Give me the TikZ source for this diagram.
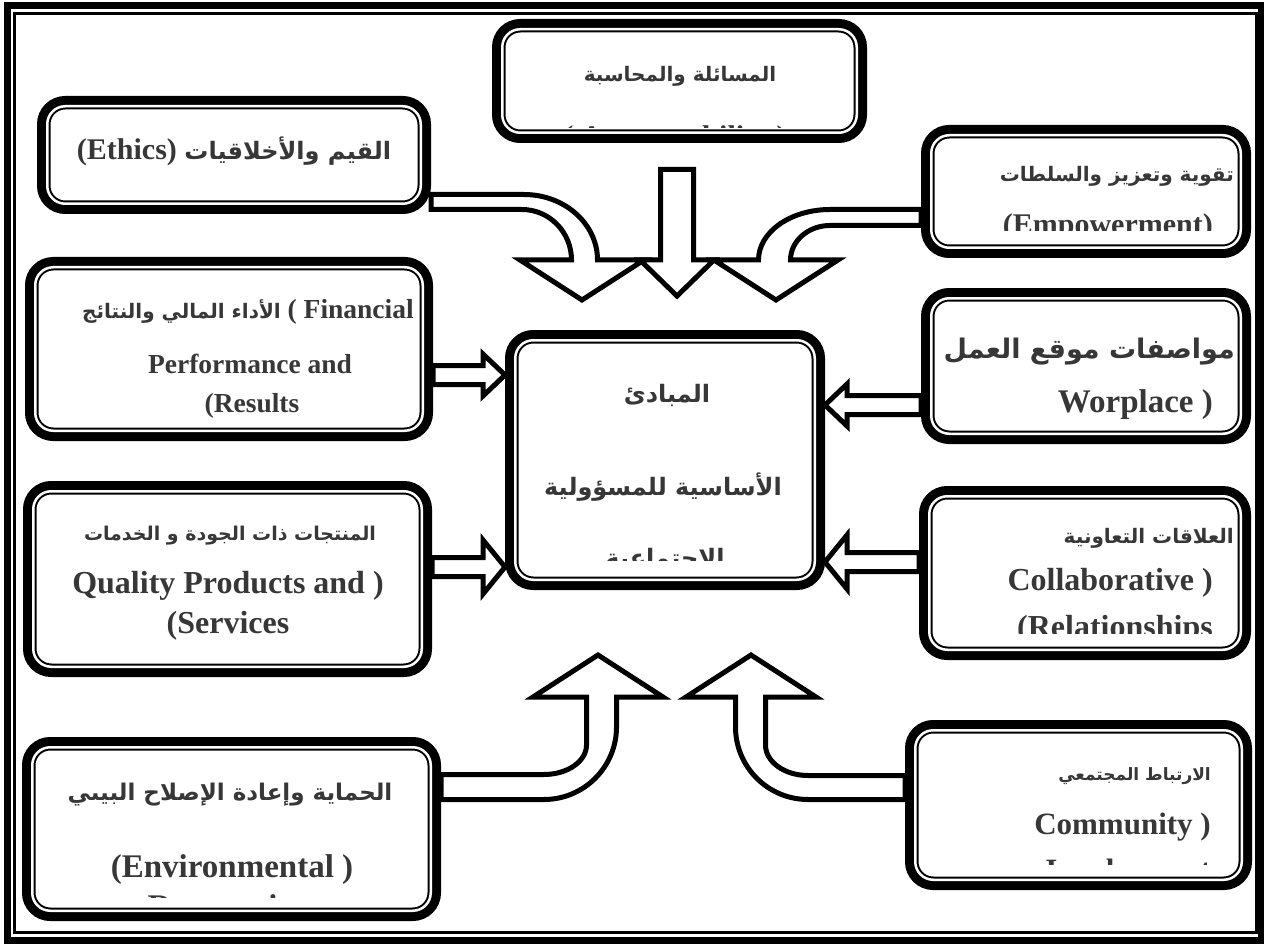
\documentclass[tikz,border=0pt]{standalone}
\usepackage{fontspec}
\setmainfont{Liberation Serif}
\newfontfamily\arabicfont[Script=Arabic]{DejaVu Sans}
\TeXXeTstate=1
\usetikzlibrary{calc}
\definecolor{txtgray}{RGB}{55,55,55}

\begin{document}
\begin{tikzpicture}[x=1pt, y=-1pt,
  pbox/.style={rectangle, rounded corners=18pt, fill=white, draw=black,
               line width=6.5pt, inner sep=0pt, outer sep=10.25pt,
               preaction={draw=black, line width=20.5pt},
               postaction={draw=white, line width=2.5pt}},
  en/.style={font=\fontsize{#1}{#1}\selectfont\bfseries, text=txtgray,
             inner sep=0pt, anchor=base},
  ar/.style={font=\fontsize{#1}{#1}\selectfont\arabicfont\bfseries, text=txtgray,
             inner sep=0pt, anchor=base},
  blk/.style={draw=black, fill=white, line width=5pt, line join=miter},
  hblk/.style={to path={let \p1=(\tikztostart), \p2=(\tikztotarget),
      \n1={(\x2>\x1) ? 22 : -22} in
      (\x1,\y1+9.5) -- (\x2-\n1,\y1+9.5) -- (\x2-\n1,\y1+#1) -- (\x2,\y1)
      -- (\x2-\n1,\y1-#1) -- (\x2-\n1,\y1-9.5) -- (\x1,\y1-9.5) -- cycle}}
]
\useasboundingbox (0,0) rectangle (1264,944);

% double frame
\draw[line width=7pt] (7,5.5) rectangle (1261,940.5);
\draw[line width=2.5pt] (14.5,13.5) rectangle (1256.5,932.5);

% boxes
\node[pbox, minimum width=354.5, minimum height=103.5] (acc) at (679.5,81) {};
\node[pbox, minimum width=373.5, minimum height=97.5]  (eth) at (234,155) {};
\node[pbox, minimum width=309.5, minimum height=112.5] (emp) at (1086,191.5) {};
\node[pbox, minimum width=387.5, minimum height=163.5] (fin) at (229,349) {};
\node[pbox, minimum width=299.5, minimum height=239.5] (ctr) at (665,460) {};
\node[pbox, minimum width=309.5, minimum height=135.5] (wor) at (1086,366) {};
\node[pbox, minimum width=388.5, minimum height=175.5] (qua) at (227.5,579) {};
\node[pbox, minimum width=311.5, minimum height=153.5] (col) at (1085,573) {};
\node[pbox, minimum width=398.5, minimum height=163.5] (env) at (231.5,829) {};
\node[pbox, minimum width=326.5, minimum height=149.5] (com) at (1078.5,805) {};

% texts
\begin{scope}
  \clip (acc.north west) rectangle ([yshift=15pt]acc.south east);
  \node[ar=20] (acc-a) at (680,82) {\beginR المسائلة والمحاسبة\endR};
  \node[en=30] (acc-b) at (675,147) {( Accountability )};
\end{scope}
\node[en=30] (eth-a) at (234,160)
  {(Ethics) {\fontsize{24}{24}\selectfont\arabicfont\beginR القيم والأخلاقيات\endR}};
\begin{scope}
  \clip (emp.north west) rectangle ([yshift=27pt]emp.south east);
  \node[ar=20, anchor=base east] (emp-a) at (1234,182) {\beginR تقوية وتعزيز والسلطات\endR};
  \node[en=30, anchor=base east] (emp-b) at (1213,235) {(Empowerment)};
\end{scope}
\node[en=27.5] (fin-a) at (248,318)
  {{\fontsize{20}{20}\selectfont\arabicfont\beginR الأداء المالي والنتائج\endR} ( Financial};
\node[en=27.5] (fin-b) at (250,373) {Performance and};
\node[en=27.5] (fin-c) at (252,412) {(Results};
\begin{scope}
  \clip (ctr.north west) rectangle ([yshift=30pt]ctr.south east);
  \node[ar=24] (ctr-a) at (667,402) {\beginR المبادئ\endR};
  \node[ar=24] (ctr-b) at (663,495) {\beginR الأساسية للمسؤولية\endR};
  \node[ar=24] (ctr-c) at (665,566) {\beginR الاجتماعية\endR};
\end{scope}
\node[ar=27, anchor=base east] (wor-a) at (1235,358) {\beginR مواصفات موقع العمل\endR};
\node[en=33, anchor=base east] (wor-b) at (1213,412) {Worplace )};
\node[ar=19] (qua-a) at (230,540) {\beginR المنتجات ذات الجودة و الخدمات\endR};
\node[en=32] (qua-b) at (228,593) {Quality Products and )};
\node[en=32] (qua-c) at (228,633) {(Services};
\begin{scope}
  \clip (col.north west) rectangle ([yshift=27pt]col.south east);
  \node[ar=20, anchor=base east] (col-a) at (1234,543) {\beginR العلاقات التعاونية\endR};
  \node[en=32, anchor=base east] (col-b) at (1213,590) {Collaborative )};
  \node[en=32, anchor=base east] (col-c) at (1213,637) {(Relationships};
\end{scope}
\begin{scope}
  \clip (env.north west) rectangle ([yshift=24pt]env.south east);
  \node[ar=23] (env-a) at (230,800) {\beginR الحماية وإعادة الإصلاح البيىي\endR};
  \node[en=33] (env-b) at (232,877) {(Environmental )};
  \node[en=33] (env-c) at (230,917) {Restoration};
\end{scope}
\begin{scope}
  \clip (com.north west) rectangle ([yshift=26pt]com.south east);
  \node[ar=17, anchor=base east] (com-a) at (1211,780) {\beginR الارتباط المجتمعي\endR};
  \node[en=31, anchor=base east] (com-b) at (1211,834) {Community )};
  \node[en=31, anchor=base east] (com-c) at (1211,880) {Involvement};
\end{scope}

% straight block arrows into the centre box
\coordinate (fa) at ([yshift=-26pt]fin.east);
\coordinate (qa) at ([yshift=12pt]qua.east);
\coordinate (wa) at ([yshift=-39pt]wor.west);
\coordinate (ca) at ([yshift=11pt]col.west);
\draw[blk] (fa) to[hblk=21] (ctr.west |- fa);
\draw[blk] (qa) to[hblk=27] (ctr.west |- qa);
\draw[blk] (wa) to[hblk=21] (ctr.east |- wa);
\draw[blk] (ca) to[hblk=27] (ctr.east |- ca);

% bent block arrows, top
\draw[blk] (431,194.5) -- (524,194.5) .. controls (564.6,194.5) and (597.5,223.8) .. (597.5,260)
  -- (644,260) -- (582,300) -- (520,260) -- (571.5,260)
  .. controls (571.5,232.1) and (549.3,209.5) .. (522,209.5) -- (431,209.5) -- cycle;
\draw[blk] (921,209.5) -- (830,209.5) .. controls (790.5,209.5) and (758.5,232.1) .. (758.5,260)
  -- (714,260) -- (776,300) -- (838,260) -- (790.5,260)
  .. controls (790.5,241) and (808.2,225.5) .. (830,225.5) -- (921,225.5) -- cycle;
\draw[blk] (660.5,169.5) -- (693.5,169.5) -- (693.5,260) -- (714,260) -- (677,296)
  -- (640,260) -- (660.5,260) -- cycle;

% bent block arrows, bottom
\draw[blk] (441,799.5) -- (544,799.5) .. controls (584,799.5) and (616.5,767) .. (616.5,727)
  -- (616.5,697) -- (663,697) -- (598,655) -- (533,697) -- (586.5,697) -- (586.5,745)
  .. controls (586.5,761.3) and (567.5,774.5) .. (544,774.5) -- (441,774.5) -- cycle;
\draw[blk] (905,799.5) -- (808,799.5) .. controls (768,799.5) and (735.5,767) .. (735.5,727)
  -- (735.5,697) -- (686,697) -- (751,655) -- (816,697) -- (765.5,697) -- (765.5,745)
  .. controls (765.5,761.8) and (784.5,775.5) .. (808,775.5) -- (905,775.5) -- cycle;
\end{tikzpicture}
\end{document}
